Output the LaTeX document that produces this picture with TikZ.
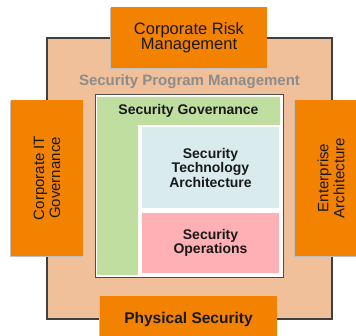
\documentclass[tikz,border=0pt]{standalone}
\usepackage{fontspec}
\setmainfont{Liberation Sans}
\usetikzlibrary{shadows}
\definecolor{orng}{RGB}{242,130,0}
\definecolor{peach}{RGB}{240,192,154}
\definecolor{grn}{RGB}{192,222,160}
\definecolor{lblue}{RGB}{218,235,238}
\definecolor{pnk}{RGB}{255,176,181}
\definecolor{txt}{RGB}{25,25,25}
\definecolor{progtxt}{RGB}{140,140,140}
\tikzset{
  orangebox/.style={fill=orng, draw=none, inner sep=0pt, align=center, text=txt,
    drop shadow={shadow xshift=-1.5pt, shadow yshift=-1.5pt, fill=black!25, opacity=1}},
  innerbox/.style={draw=none, inner sep=0pt, align=center, text=txt},
  bigtxt/.style={font=\fontsize{16.5}{15.5}\selectfont},
  sidetxt/.style={font=\fontsize{15}{16}\selectfont},
  boldtxt/.style={font=\bfseries\fontsize{14}{14.5}\selectfont},
}
\begin{document}
\begin{tikzpicture}[x=1pt,y=-1pt]
\useasboundingbox (0,0) rectangle (356,336);
% outer program management box
\node[draw=black!75, line width=1.2pt, fill=peach, minimum width=285pt, minimum height=281pt, inner sep=0pt] (prog) at (189.5,178.5) {};
\node[text=progtxt, font=\bfseries\fontsize{15}{15}\selectfont] (progl) at (189.5,82) {Security Program Management};
% white inner box
\node[draw=black!70, line width=0.8pt, fill=white, minimum width=188pt, minimum height=183pt, inner sep=0pt] (wbox) at (189,185.5) {};
% green L shape (governance)
\fill[grn] (97,97) -- (280,97) -- (280,125) -- (138,125) -- (138,275) -- (97,275) -- cycle;
\node[innerbox, boldtxt] (gov) at (188.5,111) {Security Governance};
\node[innerbox, boldtxt, fill=lblue, minimum width=137pt, minimum height=81pt] (sta) at (210.5,167.5) {Security\\Technology\\Architecture};
\node[innerbox, boldtxt, fill=pnk, minimum width=137pt, minimum height=60pt] (sop) at (210.5,243) {Security\\Operations};
% orange surrounding boxes
\node[orangebox, bigtxt, minimum width=156pt, minimum height=61pt] (crm) at (189,37.5) {Corporate Risk\\Management};
\node[orangebox, sidetxt, rotate=90, minimum width=156pt, minimum height=72pt] (cit) at (47,178) {Corporate IT\\Governance};
\node[orangebox, sidetxt, rotate=90, minimum width=156pt, minimum height=72pt] (ea) at (331,178) {Enterprise\\Architecture};
\node[orangebox, font=\bfseries\fontsize{15.5}{15.5}\selectfont, minimum width=177pt, minimum height=46pt] (phys) at (188.5,319) {Physical Security};
\end{tikzpicture}
\end{document}
